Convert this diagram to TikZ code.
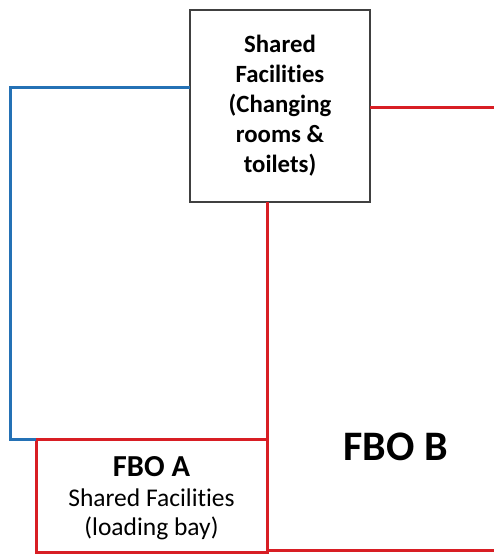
\documentclass[tikz,border=0pt]{standalone}
\usepackage{fontspec}
\setmainfont[Ligatures=NoCommon]{Carlito}
\definecolor{wallblue}{RGB}{36,113,181}
\definecolor{wallred}{RGB}{216,30,36}
\tikzset{
  sharedbox/.style={draw=black!75,line width=1.5pt,fill=white,minimum width=180pt,minimum height=192pt,
    align=center,outer sep=0pt,font=\fontsize{24.8}{30}\selectfont\bfseries},
  fbobox/.style={draw=wallred,line width=3pt,minimum width=231pt,minimum height=113pt,outer sep=0pt},
  fbotext/.style={align=center,font=\fontsize{25.5}{29.5}\selectfont},
  blueline/.style={draw=wallblue,line width=3pt},
  redline/.style={draw=wallred,line width=3pt}
}
\begin{document}
\begin{tikzpicture}[x=1pt,y=-1pt]
\useasboundingbox (0,0) rectangle (494,554);
\node[sharedbox] (shared) at (280,106) {Shared\\Facilities\\(Changing\\rooms \&\\toilets)};
\node[fbobox] (fboa) at (151.5,495.5) {};
\node[fbotext] (fboatext) at ([yshift=-3pt]fboa.center) {{\fontsize{30.5}{30}\selectfont\bfseries FBO A}\\Shared Facilities\\(loading bay)};
\node[font=\fontsize{42}{42}\selectfont\bfseries] (fbob) at (395.5,447) {FBO B};
\coordinate (righttop) at (500,107);
\coordinate (rightbottom) at (500,550);
% walls
\draw[blueline] ([yshift=19pt]shared.west) -- ++(-180,0) |- (fboa.north west);
\draw[redline] ([yshift=-1pt]shared.east) -- (righttop);
\draw[redline] (shared.south -| fboa.east) -- (fboa.south east);
\draw[redline] (fboa.south east |- rightbottom) -- (rightbottom);
\end{tikzpicture}
\end{document}
